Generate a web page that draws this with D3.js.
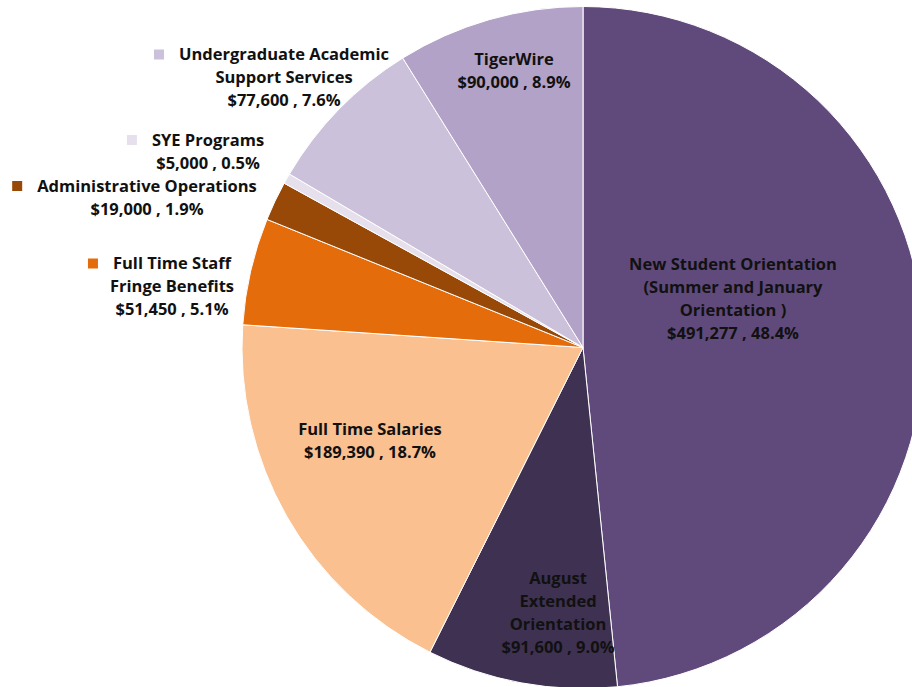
<!DOCTYPE html>
<html>
<head>
<meta charset="utf-8">
<script src="https://cdn.jsdelivr.net/npm/d3@7"></script>
<style>
  body { margin: 0; background: #fff; }
  svg text { font-family: "Open Sans", Lato, sans-serif; font-weight: 700; font-size: 16.5px; fill: #111; }
</style>
</head>
<body>
<svg id="chart" width="912" height="687"></svg>
<script>
// budget categories, in drawing order (clockwise from 12 o'clock)
var categories = [
  "New Student Orientation (Summer and January Orientation )",
  "August Extended Orientation",
  "Full Time Salaries",
  "Full Time Staff Fringe Benefits",
  "Administrative Operations",
  "SYE Programs",
  "Undergraduate Academic Support Services",
  "TigerWire"
];
var amounts = [491277, 91600, 189390, 51450, 19000, 5000, 77600, 90000];
var percents = ["48.4%", "9.0%", "18.7%", "5.1%", "1.9%", "0.5%", "7.6%", "8.9%"];
// how Excel broke the category names onto lines
var labelLines = [
  ["New Student Orientation", "(Summer and January", "Orientation )"],
  ["August", "Extended", "Orientation"],
  ["Full Time Salaries"],
  ["Full Time Staff", "Fringe Benefits"],
  ["Administrative Operations"],
  ["SYE Programs"],
  ["Undergraduate Academic", "Support Services"],
  ["TigerWire"]
];

var colors = ["#604a7b", "#3f3151", "#fac090", "#e46c0a", "#984807", "#e5e0ec", "#ccc1da", "#b3a2c7"];

// label block centres, offset from the pie centre (Excel put these by hand)
var labelSpots = [
  { dx: 150, dy: -49, key: false },
  { dx: -25, dy: 265, key: false },
  { dx: -213, dy: 93, key: false },
  { dx: -411, dy: -61, key: true },
  { dx: -436, dy: -150, key: true },
  { dx: -375, dy: -196, key: true },
  { dx: -299, dy: -270, key: true },
  { dx: -69, dy: -277, key: false }
];

var svg = d3.select("#chart");
var cx = 583, cy = 347.5, radius = 341;
var lineH = 23;

var fmt = d3.format("$,");

var pie = d3.pie().sort(null).value(function (d) { return d; });
var arc = d3.arc().innerRadius(0).outerRadius(radius);
var arcs = pie(amounts);

var g = svg.append("g").attr("transform", "translate(" + cx + "," + cy + ")");

g.selectAll("path.slice")
  .data(arcs)
  .enter().append("path")
  .attr("class", "slice")
  .attr("d", arc)
  .attr("fill", function (d, i) { return colors[i]; })
  .attr("stroke", "#fff")
  .attr("stroke-width", 1);

// data labels
var labels = g.selectAll("g.label")
  .data(arcs)
  .enter().append("g")
  .attr("class", "label")
  .attr("transform", function (d, i) {
    return "translate(" + labelSpots[i].dx + "," + labelSpots[i].dy + ")";
  });

labels.each(function (d, i) {
  var lines = labelLines[i].concat([fmt(amounts[i]) + " , " + percents[i]]);
  var top = -(lines.length - 1) * lineH / 2;
  var sel = d3.select(this);
  var first = null;
  lines.forEach(function (t, j) {
    var txt = sel.append("text")
      .attr("text-anchor", "middle")
      .attr("x", 0)
      .attr("y", top + j * lineH)
      .attr("dy", "0.35em")
      .text(t);
    if (j === 0) first = txt;
  });
  if (labelSpots[i].key) {
    var w = first.node().getComputedTextLength();
    sel.append("rect")
      .attr("x", -w / 2 - 25)
      .attr("y", top - 5)
      .attr("width", 10)
      .attr("height", 10)
      .attr("fill", colors[i]);
  }
});
</script>
</body>
</html>
